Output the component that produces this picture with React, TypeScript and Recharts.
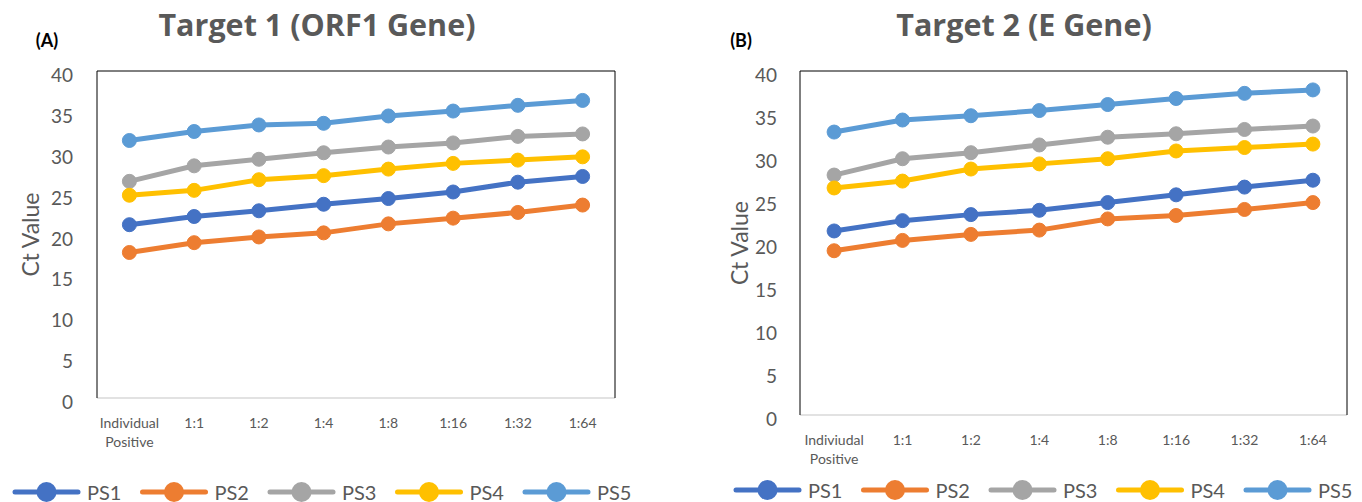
import React from 'react';
import { LineChart, Line, XAxis, YAxis } from 'recharts';

const categoriesA = ['Individual Positive', '1:1', '1:2', '1:4', '1:8', '1:16', '1:32', '1:64'];
const categoriesB = ['Indiviudal Positive', '1:1', '1:2', '1:4', '1:8', '1:16', '1:32', '1:64'];
const yTicks = [0, 5, 10, 15, 20, 25, 30, 35, 40];
const seriesNames = ['PS1', 'PS2', 'PS3', 'PS4', 'PS5'];
const seriesColors = ['#4472C4', '#ED7D31', '#A5A5A5', '#FFC000', '#5B9BD5'];

// Target 1 (ORF1 Gene)
const a_PS1 = [21.2, 22.2, 22.9, 23.7, 24.4, 25.2, 26.4, 27.1];
const a_PS2 = [17.8, 19.0, 19.7, 20.2, 21.3, 22.0, 22.7, 23.6];
const a_PS3 = [26.5, 28.4, 29.2, 30.0, 30.7, 31.2, 32.0, 32.3];
const a_PS4 = [24.8, 25.4, 26.7, 27.2, 28.0, 28.7, 29.1, 29.5];
const a_PS5 = [31.5, 32.6, 33.4, 33.6, 34.5, 35.1, 35.8, 36.4];

// Target 2 (E Gene)
const b_PS1 = [21.4, 22.6, 23.3, 23.8, 24.7, 25.6, 26.5, 27.3];
const b_PS2 = [19.1, 20.3, 21.0, 21.5, 22.8, 23.2, 23.9, 24.7];
const b_PS3 = [27.9, 29.8, 30.5, 31.4, 32.3, 32.7, 33.2, 33.6];
const b_PS4 = [26.4, 27.2, 28.6, 29.2, 29.8, 30.7, 31.1, 31.5];
const b_PS5 = [32.9, 34.3, 34.8, 35.4, 36.1, 36.8, 37.4, 37.8];

const buildRows = (cats: string[], series: number[][]) =>
  cats.map((c, i) => {
    const row: Record<string, any> = { cat: c };
    seriesNames.forEach((n, k) => {
      row[n] = series[k][i];
    });
    return row;
  });

const dataA = buildRows(categoriesA, [a_PS1, a_PS2, a_PS3, a_PS4, a_PS5]);
const dataB = buildRows(categoriesB, [b_PS1, b_PS2, b_PS3, b_PS4, b_PS5]);

const FONT = 'Lato, "Open Sans", sans-serif';
const TITLE_FONT = '"Open Sans", Lato, sans-serif';
const GRAY = '#595959';

const XTick = (props: any) => {
  const { x, y, payload } = props;
  const lines = String(payload.value).split(' ');
  return (
    <text x={x} y={y + 30} textAnchor="middle" fill={GRAY} fontSize={14} fontFamily={FONT}>
      {lines.map((l, i) => (
        <tspan key={i} x={x} dy={i === 0 ? 0 : 19}>
          {l}
        </tspan>
      ))}
    </text>
  );
};

const makeYTick = (gap: number) => (props: any) => {
  const { x, y, payload } = props;
  return (
    <text x={x - gap} y={y + 11} textAnchor="end" fill={GRAY} fontSize={19} fontFamily={FONT}>
      {payload.value}
    </text>
  );
};

const YLabel = (props: any) => {
  const { viewBox, bx } = props;
  const cy = viewBox.y + viewBox.height / 2;
  return (
    <text
      x={bx}
      y={cy}
      transform={`rotate(-90 ${bx} ${cy})`}
      textAnchor="middle"
      fill={GRAY}
      fontSize={23}
      fontFamily={FONT}
    >
      Ct Value
    </text>
  );
};

type PanelProps = {
  data: any[];
  width: number;
  yAxisWidth: number;
  rightMargin: number;
  xAxisHeight: number;
  pad: number;
  tickGap: number;
  labelX: number;
};

const Panel = ({ data, width, yAxisWidth, rightMargin, xAxisHeight, pad, tickGap, labelX }: PanelProps) => (
  <LineChart
    width={width}
    height={502}
    data={data}
    margin={{ top: 70, right: rightMargin - 1, bottom: 0, left: 0 }}
  >
    <XAxis
      dataKey="cat"
      type="category"
      height={xAxisHeight}
      padding={{ left: pad, right: pad }}
      tickLine={false}
      tickSize={0}
      tickMargin={0}
      interval={0}
      axisLine={{ stroke: '#D9D9D9', strokeWidth: 1.5 }}
      tick={<XTick />}
    />
    <XAxis
      xAxisId="top"
      orientation="top"
      dataKey="cat"
      height={1}
      tick={false}
      tickLine={false}
      axisLine={{ stroke: '#000', strokeWidth: 1 }}
    />
    <YAxis
      domain={[0, 40]}
      ticks={yTicks}
      width={yAxisWidth}
      tickLine={false}
      tickSize={0}
      tickMargin={0}
      interval={0}
      axisLine={{ stroke: '#000', strokeWidth: 1 }}
      tick={makeYTick(tickGap)}
      label={<YLabel bx={labelX} />}
    />
    <YAxis
      yAxisId="right"
      orientation="right"
      domain={[0, 40]}
      width={1}
      tick={false}
      tickLine={false}
      axisLine={{ stroke: '#000', strokeWidth: 1 }}
    />
    {seriesNames.map((n, k) => (
      <Line
        key={n}
        dataKey={n}
        stroke={seriesColors[k]}
        strokeWidth={5}
        dot={{ r: 7, fill: seriesColors[k], stroke: seriesColors[k], strokeWidth: 1 }}
        activeDot={false}
        isAnimationActive={false}
      />
    ))}
  </LineChart>
);

const LegendRow = ({ startX, cy }: { startX: number; cy: number }) => (
  <g>
    {seriesNames.map((n, k) => {
      const sx = startX + k * 127.5;
      return (
        <g key={n}>
          <line x1={sx} y1={cy} x2={sx + 63} y2={cy} stroke={seriesColors[k]} strokeWidth={5} strokeLinecap="round" />
          <circle cx={sx + 31.5} cy={cy} r={10} fill={seriesColors[k]} />
          <text x={sx + 72} y={cy + 7.5} fill={GRAY} fontSize={20} fontFamily={FONT}>
            {n}
          </text>
        </g>
      );
    })}
  </g>
);

export default function App() {
  return (
    <div style={{ position: 'absolute', left: 0, top: 0, width: 1362, height: 502, background: '#fff' }}>
      <div style={{ position: 'absolute', left: 0, top: 0 }}>
        <Panel
          data={dataA}
          width={681}
          yAxisWidth={97}
          rightMargin={66}
          xAxisHeight={104}
          pad={32.4}
          tickGap={24}
          labelX={38.5}
        />
      </div>
      <div style={{ position: 'absolute', left: 681, top: 0 }}>
        <Panel
          data={dataB}
          width={681}
          yAxisWidth={119}
          rightMargin={15}
          xAxisHeight={87}
          pad={34.1}
          tickGap={23}
          labelX={67}
        />
      </div>
      <svg
        width={1362}
        height={502}
        style={{ position: 'absolute', left: 0, top: 0, pointerEvents: 'none' }}
      >
        <text x={317} y={36} textAnchor="middle" fill={GRAY} fontSize={30.5} fontWeight="bold" fontFamily={TITLE_FONT}>
          Target 1 (ORF1 Gene)
        </text>
        <text x={1024} y={36} textAnchor="middle" fill={GRAY} fontSize={30.5} fontWeight="bold" fontFamily={TITLE_FONT}>
          Target 2 (E Gene)
        </text>
        <text x={47} y={47} textAnchor="middle" fill="#000" fontSize={18} fontWeight="bold" fontFamily={FONT}>
          (A)
        </text>
        <text x={741} y={47} textAnchor="middle" fill="#000" fontSize={18} fontWeight="bold" fontFamily={FONT}>
          (B)
        </text>
        <LegendRow startX={15} cy={492} />
        <LegendRow startX={736} cy={490} />
      </svg>
    </div>
  );
}
